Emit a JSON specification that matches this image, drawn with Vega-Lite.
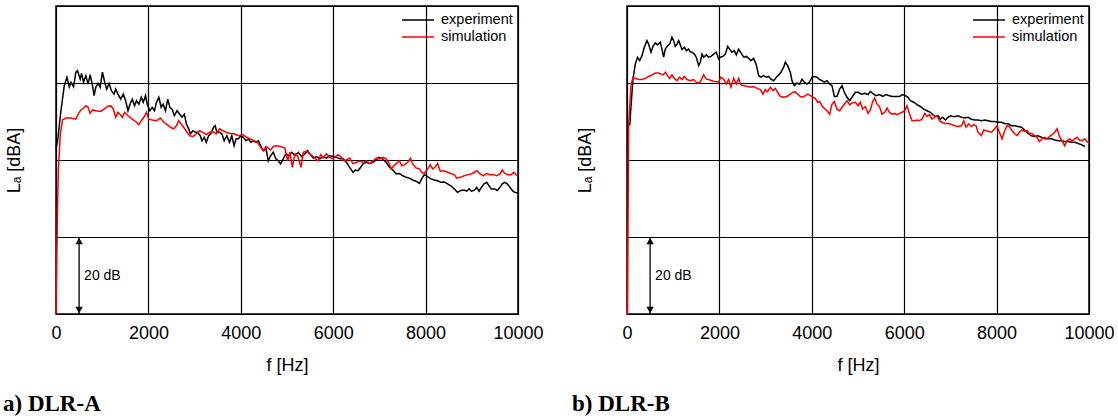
{
  "$schema": "https://vega.github.io/schema/vega-lite/v6.json",
  "padding": {"left": 2, "top": 5, "right": 0, "bottom": 0},
  "background": "white",
  "config": {
    "font": "Liberation Sans",
    "view": {"stroke": "black", "strokeWidth": 1.5},
    "axisX": {"format": "d", "grid": true, "gridColor": "black", "gridWidth": 1.2, "gridOpacity": 1, "domain": false, "ticks": false, "labelFontSize": 18, "labelColor": "black", "labelPadding": 10, "labelFlush": false, "titleFontSize": 18, "titleFontWeight": "normal", "titleColor": "black", "titlePadding": 14},
    "axisY": {"labels": false, "domain": false, "titleFontSize": 18, "titleFontWeight": "normal", "titleColor": "black", "titlePadding": 33},
    "legend": {"orient": "none", "legendX": 353, "legendY": 5, "title": null, "labelFontSize": 14.5, "labelColor": "black", "labelFont": "Liberation Sans", "symbolType": "M-2,0H2", "symbolSize": 256, "symbolStrokeWidth": 1.5, "labelOffset": 14, "rowPadding": 1},
    "title": {"orient": "bottom", "anchor": "start", "frame": "group", "font": "Liberation Serif", "fontWeight": "bold", "fontSize": 23, "color": "black", "offset": 19}
  },
  "datasets": {
    "aE": [
      {"f":0,"L":43},{"f":36,"L":45},{"f":107,"L":52.8},{"f":179,"L":59.3},{"f":237,"L":61.5},{"f":287,"L":59},{"f":323,"L":60.2},{"f":380,"L":59},{"f":430,"L":62.8},{"f":466,"L":63.2},{"f":524,"L":61},{"f":553,"L":62.5},{"f":596,"L":60.2},{"f":646,"L":61.9},{"f":696,"L":59.7},{"f":739,"L":62.2},{"f":790,"L":59.3},{"f":825,"L":56.7},{"f":861,"L":58.9},{"f":912,"L":59.9},{"f":955,"L":58.9},{"f":1005,"L":62.8},{"f":1055,"L":60.2},{"f":1098,"L":58.4},{"f":1149,"L":59.9},{"f":1199,"L":58},{"f":1256,"L":57.1},{"f":1292,"L":58.4},{"f":1342,"L":57.1},{"f":1400,"L":55.8},{"f":1457,"L":57.1},{"f":1508,"L":55.4},{"f":1558,"L":52.8},{"f":1601,"L":54.5},{"f":1651,"L":55.8},{"f":1701,"L":54.1},{"f":1744,"L":55.4},{"f":1795,"L":54.5},{"f":1845,"L":56.3},{"f":1888,"L":55},{"f":1938,"L":56.7},{"f":1974,"L":54.5},{"f":2032,"L":52.8},{"f":2082,"L":53.7},{"f":2132,"L":52.8},{"f":2175,"L":55},{"f":2226,"L":56.3},{"f":2276,"L":53.7},{"f":2319,"L":54.5},{"f":2369,"L":52.8},{"f":2419,"L":55.8},{"f":2463,"L":53.7},{"f":2513,"L":53.2},{"f":2563,"L":51.5},{"f":2620,"L":52.8},{"f":2678,"L":51.9},{"f":2728,"L":51.1},{"f":2778,"L":51.9},{"f":2821,"L":49.4},{"f":2872,"L":48.1},{"f":2908,"L":46.8},{"f":2965,"L":47.6},{"f":3015,"L":47.2},{"f":3066,"L":47.2},{"f":3123,"L":46.3},{"f":3159,"L":45},{"f":3209,"L":45.9},{"f":3252,"L":44.6},{"f":3303,"L":46.3},{"f":3353,"L":46.8},{"f":3410,"L":48.5},{"f":3446,"L":48.9},{"f":3482,"L":47.2},{"f":3539,"L":47.2},{"f":3590,"L":46.8},{"f":3640,"L":45},{"f":3697,"L":46.3},{"f":3755,"L":44.6},{"f":3805,"L":46.3},{"f":3855,"L":43.7},{"f":3898,"L":45.5},{"f":3949,"L":45.5},{"f":3999,"L":46.3},{"f":4056,"L":45.9},{"f":4114,"L":45},{"f":4164,"L":45.5},{"f":4214,"L":44.6},{"f":4272,"L":45},{"f":4329,"L":44.6},{"f":4379,"L":45},{"f":4430,"L":43.7},{"f":4487,"L":42.4},{"f":4545,"L":42.9},{"f":4595,"L":39.8},{"f":4645,"L":41.1},{"f":4703,"L":42},{"f":4760,"L":40.3},{"f":4810,"L":39.8},{"f":4861,"L":39},{"f":4918,"L":40.3},{"f":4975,"L":41.6},{"f":5029,"L":41.1},{"f":5101,"L":42},{"f":5172,"L":41.1},{"f":5244,"L":42},{"f":5316,"L":40.9},{"f":5388,"L":41.6},{"f":5445,"L":42.4},{"f":5496,"L":41.6},{"f":5567,"L":40.5},{"f":5639,"L":40.9},{"f":5711,"L":40.3},{"f":5783,"L":40.9},{"f":5854,"L":40.5},{"f":5926,"L":41.1},{"f":5998,"L":40.9},{"f":6070,"L":40.7},{"f":6142,"L":40.3},{"f":6214,"L":40.3},{"f":6285,"L":39.4},{"f":6357,"L":38.1},{"f":6429,"L":36.8},{"f":6479,"L":37.4},{"f":6537,"L":37.2},{"f":6594,"L":38.1},{"f":6644,"L":39},{"f":6716,"L":39.4},{"f":6788,"L":39.1},{"f":6860,"L":39.4},{"f":6932,"L":40},{"f":6982,"L":40.7},{"f":7039,"L":40.5},{"f":7097,"L":40},{"f":7147,"L":39.4},{"f":7219,"L":38.1},{"f":7291,"L":37.4},{"f":7362,"L":36.4},{"f":7434,"L":36.5},{"f":7506,"L":35.9},{"f":7578,"L":35.5},{"f":7650,"L":35.3},{"f":7721,"L":34.8},{"f":7793,"L":34.5},{"f":7865,"L":33.9},{"f":7915,"L":35.1},{"f":7973,"L":36.2},{"f":8044,"L":35.7},{"f":8116,"L":35.1},{"f":8188,"L":34.8},{"f":8260,"L":34.6},{"f":8332,"L":34.2},{"f":8403,"L":34.3},{"f":8475,"L":33.8},{"f":8547,"L":33.3},{"f":8619,"L":32.5},{"f":8691,"L":31.6},{"f":8763,"L":32.1},{"f":8834,"L":32.2},{"f":8891,"L":31.9},{"f":8942,"L":32.5},{"f":8992,"L":31.9},{"f":9050,"L":32.1},{"f":9107,"L":32.9},{"f":9157,"L":31.9},{"f":9208,"L":32.9},{"f":9265,"L":33.8},{"f":9323,"L":34.2},{"f":9373,"L":33.3},{"f":9423,"L":32.5},{"f":9495,"L":32.5},{"f":9552,"L":32.1},{"f":9610,"L":32.9},{"f":9660,"L":33.8},{"f":9710,"L":34.2},{"f":9768,"L":33.8},{"f":9825,"L":32.9},{"f":9875,"L":32.1},{"f":9925,"L":31.6},{"f":10000,"L":31.4}
    ],
    "aS": [
      {"f":0,"L":0},{"f":30,"L":25},{"f":50,"L":37.2},{"f":93,"L":46.8},{"f":143,"L":50.4},{"f":215,"L":50.9},{"f":323,"L":50.9},{"f":430,"L":50.6},{"f":481,"L":51.9},{"f":538,"L":53},{"f":596,"L":53.5},{"f":646,"L":54.1},{"f":696,"L":53.7},{"f":739,"L":52.1},{"f":790,"L":53},{"f":861,"L":52.8},{"f":969,"L":52.6},{"f":1041,"L":53.2},{"f":1113,"L":53.9},{"f":1184,"L":54.1},{"f":1242,"L":53.2},{"f":1292,"L":51.1},{"f":1342,"L":52.4},{"f":1385,"L":51.9},{"f":1436,"L":51.1},{"f":1486,"L":52.4},{"f":1558,"L":51.5},{"f":1651,"L":50.6},{"f":1723,"L":50},{"f":1795,"L":49.2},{"f":1845,"L":50.2},{"f":1902,"L":51.1},{"f":1960,"L":52.4},{"f":2010,"L":50.6},{"f":2082,"L":50.4},{"f":2175,"L":50.2},{"f":2261,"L":50.9},{"f":2333,"L":49.8},{"f":2405,"L":49.2},{"f":2477,"L":48.5},{"f":2549,"L":48.1},{"f":2606,"L":48.9},{"f":2656,"L":50.2},{"f":2706,"L":49.4},{"f":2764,"L":48.5},{"f":2836,"L":47.2},{"f":2893,"L":46.3},{"f":2965,"L":46.1},{"f":3037,"L":46.8},{"f":3109,"L":47.6},{"f":3180,"L":47.2},{"f":3252,"L":46.6},{"f":3324,"L":47.2},{"f":3396,"L":47.4},{"f":3468,"L":46.8},{"f":3539,"L":48.1},{"f":3611,"L":47.6},{"f":3683,"L":47.2},{"f":3769,"L":46.9},{"f":3855,"L":46.8},{"f":3949,"L":46.3},{"f":4042,"L":46.6},{"f":4128,"L":45.9},{"f":4200,"L":45.5},{"f":4286,"L":45},{"f":4358,"L":44.6},{"f":4430,"L":43.3},{"f":4487,"L":42.4},{"f":4545,"L":43.5},{"f":4595,"L":43.1},{"f":4645,"L":42.6},{"f":4703,"L":43.5},{"f":4775,"L":43.7},{"f":4861,"L":43.5},{"f":4954,"L":43.1},{"f":5014,"L":39.8},{"f":5065,"L":42},{"f":5115,"L":38.1},{"f":5172,"L":41.6},{"f":5230,"L":41.1},{"f":5302,"L":38.1},{"f":5352,"L":42},{"f":5424,"L":42.3},{"f":5496,"L":41.6},{"f":5567,"L":40.9},{"f":5618,"L":40.3},{"f":5675,"L":39.8},{"f":5733,"L":41.4},{"f":5783,"L":40.5},{"f":5854,"L":41.6},{"f":5926,"L":40.7},{"f":5998,"L":40.3},{"f":6048,"L":40.9},{"f":6106,"L":41.4},{"f":6178,"L":40.7},{"f":6235,"L":39.8},{"f":6285,"L":40},{"f":6357,"L":40.5},{"f":6429,"L":39},{"f":6501,"L":39.4},{"f":6573,"L":39.7},{"f":6644,"L":39.4},{"f":6716,"L":39.8},{"f":6788,"L":39.1},{"f":6860,"L":39.7},{"f":6932,"L":40.5},{"f":7004,"L":40.3},{"f":7075,"L":40.7},{"f":7147,"L":40.3},{"f":7197,"L":39.4},{"f":7254,"L":37.7},{"f":7312,"L":38.5},{"f":7362,"L":39},{"f":7434,"L":39.8},{"f":7484,"L":38.5},{"f":7542,"L":38.8},{"f":7614,"L":39.4},{"f":7671,"L":40.5},{"f":7721,"L":39},{"f":7793,"L":37.9},{"f":7865,"L":37.7},{"f":7915,"L":36.8},{"f":7973,"L":36.5},{"f":8044,"L":37.7},{"f":8102,"L":38.8},{"f":8152,"L":37.7},{"f":8202,"L":38.1},{"f":8260,"L":39.1},{"f":8317,"L":37.1},{"f":8389,"L":37.2},{"f":8475,"L":36.8},{"f":8547,"L":36.5},{"f":8619,"L":36.2},{"f":8676,"L":35.3},{"f":8748,"L":35.5},{"f":8834,"L":35.9},{"f":8920,"L":36.2},{"f":9014,"L":36.5},{"f":9107,"L":37.2},{"f":9179,"L":36.4},{"f":9251,"L":35.9},{"f":9323,"L":36.5},{"f":9394,"L":36.2},{"f":9466,"L":36.2},{"f":9538,"L":35.9},{"f":9610,"L":36.4},{"f":9660,"L":37.4},{"f":9710,"L":36.5},{"f":9782,"L":36.2},{"f":9854,"L":36.2},{"f":9911,"L":36.8},{"f":9983,"L":35.9},{"f":10000,"L":35.7}
    ],
    "bE": [
      {"f":60,"L":49},{"f":72,"L":51.5},{"f":129,"L":61},{"f":180,"L":64.9},{"f":230,"L":66.7},{"f":274,"L":65.8},{"f":324,"L":67.1},{"f":375,"L":69.3},{"f":432,"L":71},{"f":468,"L":70.1},{"f":519,"L":68},{"f":562,"L":69.5},{"f":613,"L":70.4},{"f":663,"L":69.9},{"f":721,"L":70.6},{"f":757,"L":68.8},{"f":793,"L":66.7},{"f":829,"L":68.8},{"f":880,"L":69.7},{"f":923,"L":70.1},{"f":973,"L":71.9},{"f":1010,"L":71},{"f":1046,"L":69.5},{"f":1082,"L":70.1},{"f":1118,"L":71},{"f":1154,"L":69.9},{"f":1190,"L":68.7},{"f":1240,"L":69.3},{"f":1284,"L":68.4},{"f":1334,"L":68.8},{"f":1370,"L":68.1},{"f":1406,"L":68},{"f":1457,"L":67.5},{"f":1500,"L":66.7},{"f":1551,"L":64.5},{"f":1587,"L":65.4},{"f":1623,"L":67.5},{"f":1659,"L":66.7},{"f":1717,"L":67.3},{"f":1767,"L":66.7},{"f":1818,"L":66.9},{"f":1875,"L":67.5},{"f":1933,"L":68},{"f":1984,"L":66.2},{"f":2020,"L":66.7},{"f":2078,"L":66.9},{"f":2128,"L":67.5},{"f":2179,"L":69.5},{"f":2222,"L":68.8},{"f":2272,"L":68},{"f":2323,"L":68.4},{"f":2366,"L":67.3},{"f":2417,"L":68.8},{"f":2467,"L":67.8},{"f":2525,"L":66.7},{"f":2583,"L":66.9},{"f":2633,"L":66.4},{"f":2684,"L":65.8},{"f":2741,"L":66.4},{"f":2799,"L":64.7},{"f":2850,"L":61.9},{"f":2900,"L":61.5},{"f":2958,"L":61.9},{"f":3016,"L":61.5},{"f":3066,"L":61.7},{"f":3117,"L":61},{"f":3174,"L":60.6},{"f":3232,"L":61.5},{"f":3283,"L":62.1},{"f":3333,"L":62.8},{"f":3391,"L":64.1},{"f":3427,"L":65.4},{"f":3477,"L":64.5},{"f":3535,"L":62.8},{"f":3571,"L":60.6},{"f":3622,"L":59.3},{"f":3679,"L":60},{"f":3737,"L":59.7},{"f":3788,"L":61},{"f":3838,"L":60.2},{"f":3896,"L":59.7},{"f":3954,"L":60.3},{"f":4004,"L":61.5},{"f":4055,"L":61.7},{"f":4112,"L":61.5},{"f":4170,"L":60.9},{"f":4221,"L":60.6},{"f":4271,"L":60.2},{"f":4329,"L":60.6},{"f":4387,"L":59.7},{"f":4437,"L":59.3},{"f":4488,"L":56.5},{"f":4545,"L":56.5},{"f":4603,"L":58.4},{"f":4654,"L":59.3},{"f":4704,"L":57.6},{"f":4762,"L":56.3},{"f":4820,"L":55.4},{"f":4870,"L":56.3},{"f":4942,"L":57.6},{"f":5001,"L":57.6},{"f":5073,"L":57.1},{"f":5145,"L":57.3},{"f":5217,"L":57},{"f":5268,"L":57.8},{"f":5340,"L":57.1},{"f":5390,"L":56.7},{"f":5463,"L":57},{"f":5535,"L":56.5},{"f":5607,"L":57},{"f":5679,"L":56.7},{"f":5751,"L":56.5},{"f":5823,"L":56.5},{"f":5896,"L":56.5},{"f":5968,"L":57},{"f":6025,"L":56.7},{"f":6083,"L":56.3},{"f":6134,"L":55.4},{"f":6206,"L":55},{"f":6278,"L":54.4},{"f":6350,"L":53.9},{"f":6422,"L":53.2},{"f":6494,"L":52.8},{"f":6567,"L":52.4},{"f":6617,"L":51.8},{"f":6675,"L":51.3},{"f":6733,"L":51.5},{"f":6783,"L":50.6},{"f":6834,"L":51.1},{"f":6891,"L":50.4},{"f":6949,"L":51.1},{"f":6999,"L":51.5},{"f":7050,"L":51.3},{"f":7108,"L":51.3},{"f":7166,"L":51.5},{"f":7238,"L":51.1},{"f":7310,"L":50.9},{"f":7382,"L":51.1},{"f":7454,"L":50.6},{"f":7526,"L":50.4},{"f":7599,"L":50.4},{"f":7671,"L":50.2},{"f":7743,"L":50.4},{"f":7815,"L":50.2},{"f":7887,"L":50},{"f":7959,"L":50},{"f":8031,"L":49.8},{"f":8104,"L":49.8},{"f":8176,"L":49.5},{"f":8248,"L":49.4},{"f":8320,"L":48.9},{"f":8392,"L":48.9},{"f":8464,"L":48.7},{"f":8537,"L":48.5},{"f":8609,"L":47.8},{"f":8681,"L":46.9},{"f":8753,"L":46.3},{"f":8825,"L":46.1},{"f":8897,"L":46.3},{"f":8970,"L":45.9},{"f":9042,"L":45.5},{"f":9114,"L":45.5},{"f":9186,"L":45.5},{"f":9258,"L":45.2},{"f":9330,"L":45},{"f":9402,"L":45},{"f":9475,"L":44.8},{"f":9547,"L":44.8},{"f":9619,"L":44.6},{"f":9691,"L":44.6},{"f":9763,"L":44.3},{"f":9835,"L":44},{"f":9908,"L":43.5}
    ],
    "bS": [
      {"f":10,"L":0},{"f":35,"L":48.9},{"f":86,"L":59.3},{"f":129,"L":61.5},{"f":180,"L":61.2},{"f":252,"L":60.9},{"f":324,"L":60.9},{"f":396,"L":61.2},{"f":468,"L":61.7},{"f":541,"L":62.1},{"f":613,"L":62.6},{"f":685,"L":62.6},{"f":735,"L":62.3},{"f":779,"L":62.1},{"f":829,"L":62.8},{"f":865,"L":62.1},{"f":923,"L":61.2},{"f":973,"L":62.1},{"f":1024,"L":61.2},{"f":1082,"L":60.6},{"f":1139,"L":61.5},{"f":1190,"L":60.9},{"f":1240,"L":61.7},{"f":1298,"L":60.9},{"f":1370,"L":60.6},{"f":1442,"L":60.9},{"f":1515,"L":60},{"f":1587,"L":60.3},{"f":1659,"L":62.1},{"f":1717,"L":61},{"f":1767,"L":60.9},{"f":1839,"L":60.6},{"f":1912,"L":60.3},{"f":1984,"L":60.3},{"f":2034,"L":61.5},{"f":2092,"L":61},{"f":2150,"L":59.7},{"f":2200,"L":60.9},{"f":2251,"L":58.9},{"f":2308,"L":61.2},{"f":2366,"L":59.7},{"f":2417,"L":61.2},{"f":2467,"L":59.5},{"f":2539,"L":59.3},{"f":2611,"L":59.1},{"f":2684,"L":58.9},{"f":2741,"L":59.1},{"f":2814,"L":58.6},{"f":2886,"L":58.3},{"f":2943,"L":57.1},{"f":2994,"L":58.3},{"f":3044,"L":57.7},{"f":3102,"L":58.9},{"f":3160,"L":58},{"f":3210,"L":58.6},{"f":3261,"L":57.6},{"f":3319,"L":56.5},{"f":3391,"L":56.3},{"f":3463,"L":56.5},{"f":3535,"L":57.1},{"f":3593,"L":57.6},{"f":3643,"L":57.7},{"f":3694,"L":57.1},{"f":3752,"L":56.5},{"f":3809,"L":56.3},{"f":3860,"L":56.7},{"f":3911,"L":57.1},{"f":3968,"L":56.7},{"f":4026,"L":56.3},{"f":4076,"L":56},{"f":4127,"L":55},{"f":4170,"L":55.2},{"f":4221,"L":54.1},{"f":4271,"L":53.4},{"f":4329,"L":52.8},{"f":4387,"L":51.9},{"f":4437,"L":54.5},{"f":4488,"L":55.2},{"f":4545,"L":53.2},{"f":4603,"L":52.8},{"f":4654,"L":53.7},{"f":4704,"L":54.5},{"f":4762,"L":55.4},{"f":4820,"L":54.3},{"f":4870,"L":54.8},{"f":4943,"L":55},{"f":5001,"L":54.1},{"f":5051,"L":55},{"f":5102,"L":53.2},{"f":5159,"L":53.9},{"f":5217,"L":52.1},{"f":5268,"L":53},{"f":5318,"L":55.2},{"f":5361,"L":56.1},{"f":5412,"L":54.5},{"f":5463,"L":53.9},{"f":5520,"L":51.9},{"f":5578,"L":52.4},{"f":5629,"L":53.5},{"f":5679,"L":52.4},{"f":5737,"L":51.9},{"f":5794,"L":52.1},{"f":5845,"L":51.8},{"f":5896,"L":52.1},{"f":5953,"L":52.4},{"f":6011,"L":52.8},{"f":6061,"L":54.1},{"f":6112,"L":52.1},{"f":6170,"L":50.2},{"f":6227,"L":50.2},{"f":6278,"L":50.4},{"f":6328,"L":50.2},{"f":6386,"L":50.6},{"f":6444,"L":52.1},{"f":6494,"L":51.3},{"f":6545,"L":51.8},{"f":6603,"L":50.6},{"f":6660,"L":51.1},{"f":6711,"L":51.5},{"f":6761,"L":50.2},{"f":6819,"L":49.8},{"f":6877,"L":49.5},{"f":6949,"L":49.5},{"f":7021,"L":49.2},{"f":7093,"L":48.9},{"f":7166,"L":48.7},{"f":7238,"L":48.9},{"f":7288,"L":50.2},{"f":7339,"L":48.5},{"f":7396,"L":49.4},{"f":7454,"L":48.7},{"f":7505,"L":49.2},{"f":7555,"L":48.9},{"f":7599,"L":47.2},{"f":7671,"L":46.3},{"f":7721,"L":47.8},{"f":7772,"L":47.6},{"f":7829,"L":47.4},{"f":7887,"L":47.2},{"f":7937,"L":47.8},{"f":8010,"L":48.9},{"f":8060,"L":47.2},{"f":8118,"L":45.5},{"f":8176,"L":47.6},{"f":8226,"L":48.9},{"f":8277,"L":48.7},{"f":8334,"L":47.6},{"f":8392,"L":46.8},{"f":8443,"L":46.3},{"f":8493,"L":47.2},{"f":8551,"L":47.8},{"f":8609,"L":47.4},{"f":8659,"L":47.6},{"f":8710,"L":46.9},{"f":8767,"L":46.9},{"f":8825,"L":46.3},{"f":8876,"L":45.9},{"f":8926,"L":44.8},{"f":8984,"L":45.5},{"f":9042,"L":45.9},{"f":9092,"L":45.5},{"f":9143,"L":46.1},{"f":9200,"L":46.6},{"f":9258,"L":47.2},{"f":9309,"L":48.1},{"f":9359,"L":46.1},{"f":9417,"L":45},{"f":9475,"L":43.7},{"f":9525,"L":45},{"f":9576,"L":45.5},{"f":9633,"L":45},{"f":9691,"L":45.5},{"f":9742,"L":45.9},{"f":9792,"L":45.2},{"f":9850,"L":45},{"f":9907,"L":45.5},{"f":9958,"L":44.8},{"f":10000,"L":44.3}
    ],
    "ann": [{"f": 500, "lo": 0, "hi": 20, "mid": 10, "label": "20 dB"}]
  },
  "spacing": 109,
  "bounds": "flush",
  "resolve": {"legend": {"color": "independent"}},
  "hconcat": [
    {
      "width": 462, "height": 308,
      "title": {"text": "a) DLR-A", "dx": -53},
      "layer": [
        {"data": {"name": "ann"}, "mark": {"type": "rule", "color": "black", "strokeWidth": 1.3},
         "encoding": {"x": {"field": "f", "type": "quantitative", "scale": {"domain": [0, 10000], "nice": false}, "title": "f [Hz]",
                            "axis": {"values": [0, 2000, 4000, 6000, 8000, 10000], "format": "d"}},
                      "y": {"field": "lo", "type": "quantitative", "scale": {"domain": [0, 80], "nice": false}, "title": "Lₐ [dBA]",
                            "axis": {"values": [0,10,20,30,40,50,60,70,80], "grid": true, "gridColor": "black", "gridWidth": 1.2,
                                     "gridOpacity": {"condition": {"test": "datum.value % 20 === 0", "value": 1}, "value": 0},
                                     "ticks": true, "tickSize": -3, "tickColor": "black",
                                     "tickOpacity": {"condition": {"test": "datum.value % 20 === 0", "value": 0}, "value": 1}}},
                      "y2": {"field": "hi"}}},
        {"data": {"name": "ann"}, "mark": {"type": "point", "shape": "triangle-up", "filled": true, "color": "black", "size": 55, "opacity": 1, "yOffset": 4},
         "encoding": {"x": {"field": "f", "type": "quantitative"}, "y": {"field": "hi", "type": "quantitative"}}},
        {"data": {"name": "ann"}, "mark": {"type": "point", "shape": "triangle-down", "filled": true, "color": "black", "size": 55, "opacity": 1, "yOffset": -4},
         "encoding": {"x": {"field": "f", "type": "quantitative"}, "y": {"field": "lo", "type": "quantitative"}}},
        {"data": {"name": "ann"}, "mark": {"type": "text", "align": "left", "baseline": "middle", "dx": 5, "fontSize": 14, "color": "black"},
         "encoding": {"x": {"field": "f", "type": "quantitative"}, "y": {"field": "mid", "type": "quantitative"}, "text": {"field": "label"}}},
        {"data": {"name": "aE"}, "mark": {"type": "line", "strokeWidth": 1.5},
         "encoding": {"x": {"field": "f", "type": "quantitative"}, "y": {"field": "L", "type": "quantitative"},
                      "color": {"datum": "experiment", "type": "nominal", "scale": {"domain": ["experiment", "simulation"], "range": ["#000000", "#ff0000"]}}}},
        {"data": {"name": "aS"}, "mark": {"type": "line", "strokeWidth": 1.5},
         "encoding": {"x": {"field": "f", "type": "quantitative"}, "y": {"field": "L", "type": "quantitative"},
                      "color": {"datum": "simulation", "type": "nominal"}}}
      ]
    },
    {
      "width": 462, "height": 308,
      "title": {"text": "b) DLR-B", "dx": -55},
      "layer": [
        {"data": {"name": "ann"}, "mark": {"type": "rule", "color": "black", "strokeWidth": 1.3},
         "encoding": {"x": {"field": "f", "type": "quantitative", "scale": {"domain": [0, 10000], "nice": false}, "title": "f [Hz]",
                            "axis": {"values": [0, 2000, 4000, 6000, 8000, 10000], "format": "d"}},
                      "y": {"field": "lo", "type": "quantitative", "scale": {"domain": [0, 80], "nice": false}, "title": "Lₐ [dBA]",
                            "axis": {"values": [0,10,20,30,40,50,60,70,80], "grid": true, "gridColor": "black", "gridWidth": 1.2,
                                     "gridOpacity": {"condition": {"test": "datum.value % 20 === 0", "value": 1}, "value": 0},
                                     "ticks": true, "tickSize": -3, "tickColor": "black",
                                     "tickOpacity": {"condition": {"test": "datum.value % 20 === 0", "value": 0}, "value": 1}}},
                      "y2": {"field": "hi"}}},
        {"data": {"name": "ann"}, "mark": {"type": "point", "shape": "triangle-up", "filled": true, "color": "black", "size": 55, "opacity": 1, "yOffset": 4},
         "encoding": {"x": {"field": "f", "type": "quantitative"}, "y": {"field": "hi", "type": "quantitative"}}},
        {"data": {"name": "ann"}, "mark": {"type": "point", "shape": "triangle-down", "filled": true, "color": "black", "size": 55, "opacity": 1, "yOffset": -4},
         "encoding": {"x": {"field": "f", "type": "quantitative"}, "y": {"field": "lo", "type": "quantitative"}}},
        {"data": {"name": "ann"}, "mark": {"type": "text", "align": "left", "baseline": "middle", "dx": 5, "fontSize": 14, "color": "black"},
         "encoding": {"x": {"field": "f", "type": "quantitative"}, "y": {"field": "mid", "type": "quantitative"}, "text": {"field": "label"}}},
        {"data": {"name": "bE"}, "mark": {"type": "line", "strokeWidth": 1.5},
         "encoding": {"x": {"field": "f", "type": "quantitative"}, "y": {"field": "L", "type": "quantitative"},
                      "color": {"datum": "experiment", "type": "nominal", "scale": {"domain": ["experiment", "simulation"], "range": ["#000000", "#ff0000"]}}}},
        {"data": {"name": "bS"}, "mark": {"type": "line", "strokeWidth": 1.5},
         "encoding": {"x": {"field": "f", "type": "quantitative"}, "y": {"field": "L", "type": "quantitative"},
                      "color": {"datum": "simulation", "type": "nominal"}}}
      ]
    }
  ]
}
